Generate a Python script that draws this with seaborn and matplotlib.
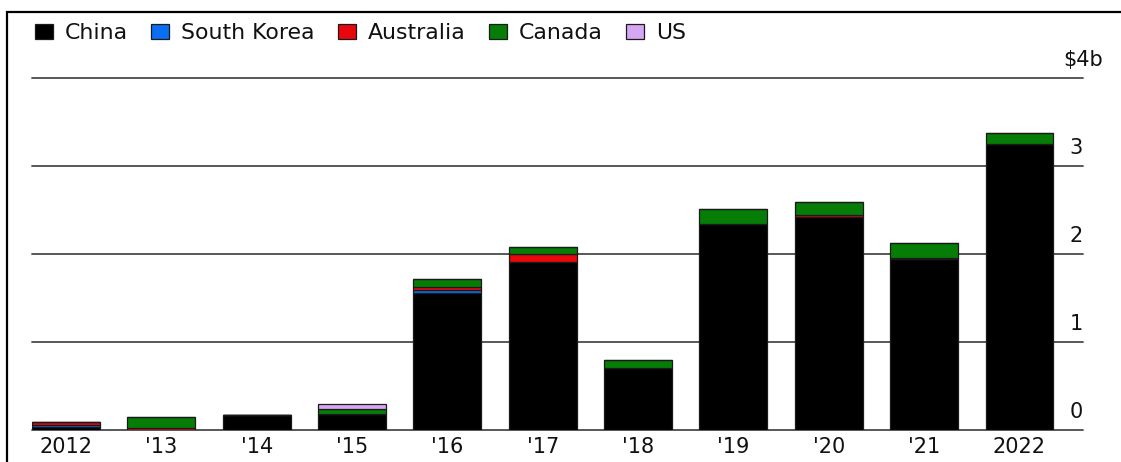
import matplotlib
matplotlib.use("Agg")
import matplotlib.pyplot as plt
import matplotlib.transforms as mtransforms
from matplotlib.patches import Patch, Rectangle
import numpy as np
import pandas as pd
import seaborn as sns

# ---- data (US$ billions) ----
years = ["2012", "'13", "'14", "'15", "'16", "'17", "'18", "'19", "'20", "'21", "2022"]
china = [0.035, 0.0, 0.17, 0.18, 1.56, 1.91, 0.70, 2.34, 2.42, 1.94, 3.25]
south_korea = [0.025, 0.0, 0.0, 0.0, 0.03, 0.0, 0.0, 0.0, 0.0, 0.0, 0.0]
australia = [0.035, 0.02, 0.0, 0.0, 0.03, 0.09, 0.0, 0.0, 0.02, 0.02, 0.0]
canada = [0.0, 0.13, 0.0, 0.06, 0.10, 0.08, 0.095, 0.17, 0.15, 0.17, 0.13]
us = [0.0, 0.0, 0.0, 0.05, 0.0, 0.0, 0.0, 0.0, 0.0, 0.0, 0.0]
series_names = ["China", "South Korea", "Australia", "Canada", "US"]
series_values = [china, south_korea, australia, canada, us]
series_colors = ["#000000", "#0a6ef5", "#e8070d", "#067d06", "#d7a6f2"]
y_ticks = [0, 1, 2, 3, 4]
y_labels = ["0", "1", "2", "3", "$4b"]

sns.set_style("white")
plt.rcParams["font.family"] = ["DejaVu Sans"]

W, H = 1121, 462
fig = plt.figure(figsize=(W / 100, H / 100), dpi=100)
ax = fig.add_axes([32 / W, (H - 430) / H, 1051 / W, 352 / H])

# gridlines
for v in y_ticks:
    ax.axhline(v, color="#4a4a4a", lw=1.3, zorder=0, clip_on=False)

bottom = np.zeros(len(years))
for name, vals, col in zip(series_names, series_values, series_colors):
    df = pd.DataFrame({"year": years, "value": vals})
    sns.barplot(data=df, x="year", y="value", order=years, color=col,
                bottom=bottom.copy(), width=0.713, edgecolor="#1a1a1a",
                linewidth=0.9, saturation=1, ax=ax, zorder=2)
    bottom += np.array(vals)

ax.set_xlim(-0.357, 10.666)
ax.set_ylim(0, 4)
ax.set_yticks([])
ax.set_xlabel("")
ax.set_ylabel("")
for s in ax.spines.values():
    s.set_visible(False)
ax.tick_params(axis="x", length=0, pad=5, labelsize=15, colors="#111111")

# right-side value labels above gridlines
trans = mtransforms.offset_copy(ax.get_yaxis_transform(), fig=fig, x=0, y=12, units="dots")
for v, lab in zip(y_ticks, y_labels):
    xoff = 1.0 + (20 / 1051 if lab.startswith("$") else 0)
    ax.text(xoff, v, lab, transform=trans, ha="right", va="baseline",
            fontsize=15, color="#111111", clip_on=False)

# legend
handles = [Patch(facecolor=c, edgecolor="#1a1a1a", linewidth=0.9, label=n)
           for n, c in zip(series_names, series_colors)]
fig.legend(handles=handles, loc="center left", bbox_to_anchor=(35 / W, (H - 33) / H),
           ncol=5, frameon=False, fontsize=15.8, handlelength=0.82, handleheight=0.68,
           handletextpad=0.55, columnspacing=1.05, borderpad=0, borderaxespad=0,
           labelcolor="#111111")

# outer frame (top and left edges visible)
fig.patches.append(Rectangle((7 / W, -0.5), 2.0, 0.5 + (H - 12) / H,
                             transform=fig.transFigure, fill=False,
                             edgecolor="black", lw=1.6, zorder=10))

fig.savefig("out.png", dpi=100)
